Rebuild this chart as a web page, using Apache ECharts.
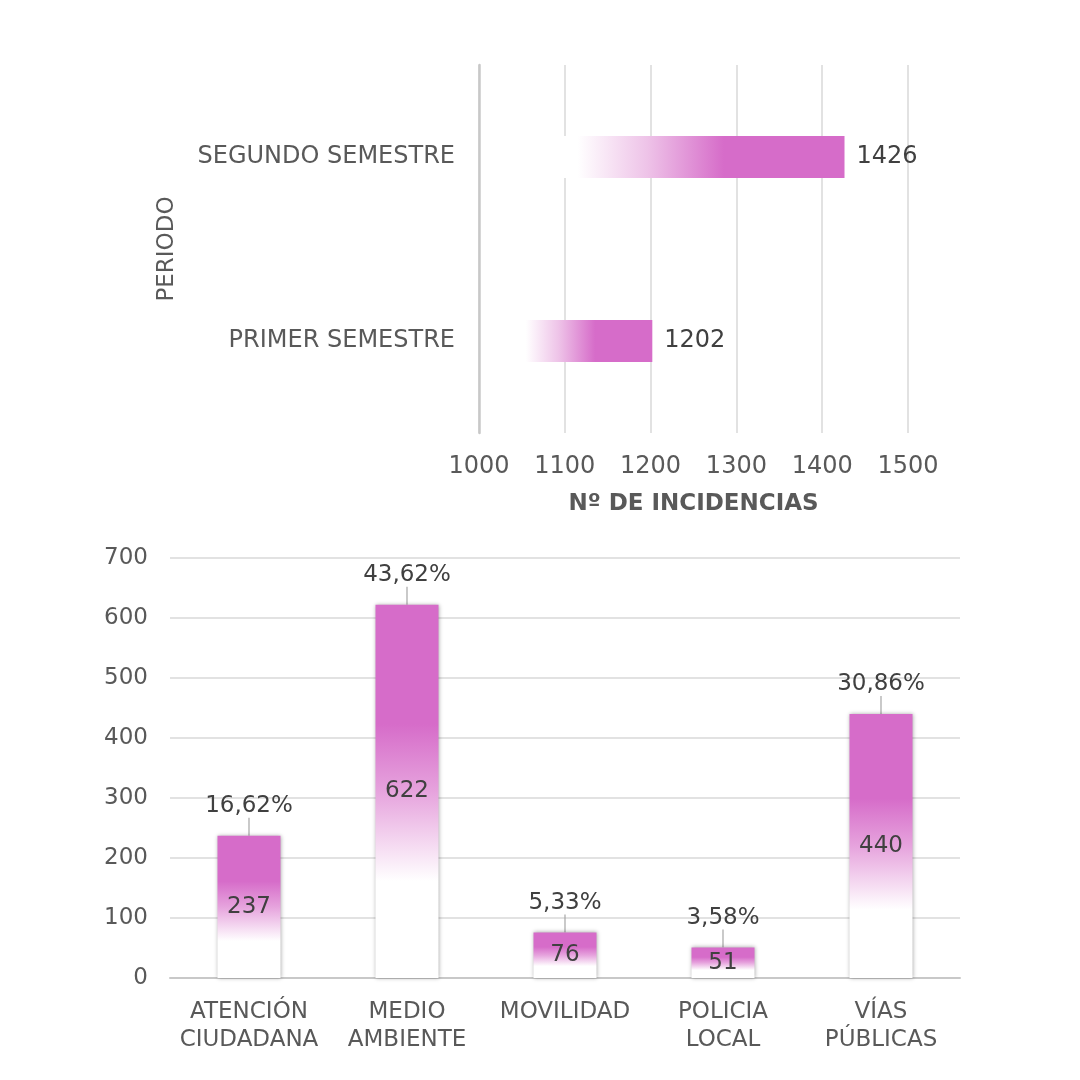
<!DOCTYPE html>
<html>
<head>
<meta charset="utf-8">
<script src="https://cdn.jsdelivr.net/npm/echarts@6/dist/echarts.min.js"></script>
<style>
  html, body { margin: 0; padding: 0; background: #fff; }
  #main { width: 1080px; height: 1080px; }
</style>
</head>
<body>
<div id="main"></div>
<script>
// Datos del grafico superior (periodos)
var periodos = ['PRIMER SEMESTRE', 'SEGUNDO SEMESTRE'];
var incidenciasPeriodo = [1202, 1426];

// Datos del grafico inferior (areas)
var areas = ['ATENCIÓN\nCIUDADANA', 'MEDIO\nAMBIENTE', 'MOVILIDAD', 'POLICIA\nLOCAL', 'VÍAS\nPÚBLICAS'];
var incidenciasArea = [237, 622, 76, 51, 440];
var porcentajes = ['16,62%', '43,62%', '5,33%', '3,58%', '30,86%'];

var fuente = 'DejaVu Sans';
var rosa = '#D66CC9';
var gris = '#595959';

var grafico = echarts.init(document.getElementById('main'));

var option = {
    backgroundColor: '#fff',
    animation: false,
    textStyle: { fontFamily: fuente },
    grid: [{
        left: 479, right: 172, top: 65, bottom: 647
    }, {
        left: 170, right: 120, top: 558, bottom: 102
    }],
    xAxis: [{
        type: 'value',
        gridIndex: 0,
        min: 1000,
        max: 1500,
        interval: 100,
        axisLine: { show: false },
        axisTick: { show: false },
        axisLabel: {
            color: gris, fontSize: 24, margin: 22, fontFamily: fuente,
            formatter: function (v) { return String(v); }
        },
        splitLine: { lineStyle: { color: '#D9D9D9', width: 1.5 } },
        name: 'Nº DE INCIDENCIAS',
        nameLocation: 'middle',
        nameGap: 60,
        nameTextStyle: { color: gris, fontSize: 23, fontWeight: 'bold', fontFamily: fuente }
    }, {
        type: 'category',
        gridIndex: 1,
        data: areas,
        axisLine: { lineStyle: { color: '#C8C8C8', width: 2 } },
        axisTick: { show: false },
        axisLabel: { color: gris, fontSize: 23, margin: 20, lineHeight: 28, fontFamily: fuente, interval: 0 }
    }],
    yAxis: [{
        type: 'category',
        gridIndex: 0,
        z: 3,
        data: periodos,
        axisLine: { lineStyle: { color: '#C8C8C8', width: 2.5 } },
        axisTick: { show: false },
        axisLabel: { color: gris, fontSize: 24, margin: 24, fontFamily: fuente },
        name: 'PERIODO',
        nameLocation: 'middle',
        nameGap: 300,
        nameRotate: 90,
        nameTextStyle: { color: gris, fontSize: 23, fontFamily: fuente }
    }, {
        type: 'value',
        gridIndex: 1,
        min: 0,
        max: 700,
        interval: 100,
        axisLine: { show: false },
        axisTick: { show: false },
        axisLabel: { color: gris, fontSize: 23, margin: 22, fontFamily: fuente },
        splitLine: { lineStyle: { color: '#D9D9D9', width: 1.5 } }
    }],
    series: [{
        name: 'Periodo',
        type: 'bar',
        xAxisIndex: 0,
        yAxisIndex: 0,
        barWidth: 42,
        data: incidenciasPeriodo,
        itemStyle: {
            color: new echarts.graphic.LinearGradient(0, 0, 1, 0, [
                { offset: 0, color: 'rgba(255,255,255,1)' },
                { offset: 0.27, color: 'rgba(255,255,255,1)' },
                { offset: 0.46, color: '#EEC3E8' },
                { offset: 0.67, color: rosa },
                { offset: 1, color: rosa }
            ])
        },
        label: {
            show: true,
            position: 'right',
            distance: 12,
            color: '#404040',
            fontSize: 24,
            fontFamily: fuente
        }
    }, {
        name: 'Area',
        type: 'bar',
        xAxisIndex: 1,
        yAxisIndex: 1,
        barWidth: 63,
        data: incidenciasArea,
        itemStyle: {
            color: new echarts.graphic.LinearGradient(0, 0, 0, 1, [
                { offset: 0, color: rosa },
                { offset: 0.32, color: rosa },
                { offset: 0.5, color: '#E6A3DD' },
                { offset: 0.74, color: 'rgba(255,255,255,1)' },
                { offset: 1, color: 'rgba(255,255,255,1)' }
            ]),
            shadowColor: 'rgba(0,0,0,0.35)',
            shadowBlur: 4
        },
        label: {
            show: true,
            position: 'inside',
            color: '#404040',
            fontSize: 23,
            fontFamily: fuente
        }
    }, {
        name: 'Porcentaje',
        type: 'bar',
        xAxisIndex: 1,
        yAxisIndex: 1,
        barWidth: 63,
        barGap: '-100%',
        data: incidenciasArea,
        itemStyle: { color: 'rgba(0,0,0,0)' },
        label: {
            show: true,
            position: 'top',
            distance: 4,
            color: '#404040',
            fontSize: 23,
            fontFamily: fuente,
            formatter: function (p) { return porcentajes[p.dataIndex]; }
        },
        labelLayout: { dy: -14 },
        labelLine: { show: true, lineStyle: { color: '#A6A6A6', width: 1.2 } }
    }]
};

grafico.setOption(option);
</script>
</body>
</html>
